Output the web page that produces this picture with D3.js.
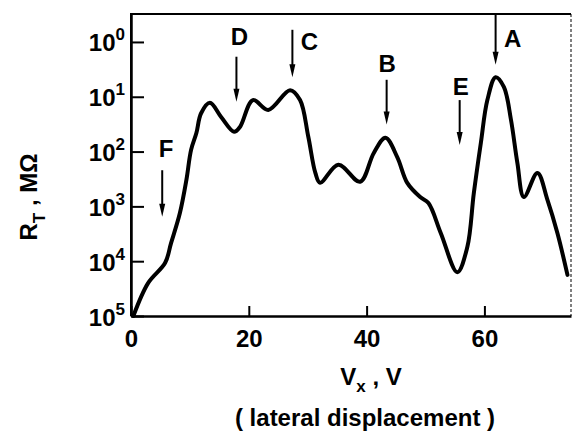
<!DOCTYPE html>
<html>
<head>
<meta charset="utf-8">
<script src="https://cdn.jsdelivr.net/npm/d3@7"></script>
<style>
body{margin:0;background:#fff}
svg{display:block;font-family:"Liberation Sans",Arial,Helvetica,sans-serif;font-weight:bold}
</style>
</head>
<body>
<svg></svg>
<script>
// lateral sweep: tunnel resistance (MOhm) vs Vx (V)
var width=572;
var height=433;
var plotL=131, plotR=571, plotT=14, plotB=316;

var vx=[0.4,2.9,5.8,6.8,8.3,9.4,10.2,11.1,11.9,13.4,15.3,17.5,18.5,20.7,23.3,27.0,28.7,30.1,31.3,32.1,
	35.2,38.9,41.2,43.2,45.2,46.9,49.1,50.5,52.6,55.4,57.1,58.2,59.4,60.5,61.9,63.3,64.5,65.6,66.7,
	69.0,70.7,72.4,74.1];
var rT=[100000,25100,10700,4680,1320,331,93,46,20,12.9,23.4,43.6,35.5,11.5,17.4,7.6,11.5,53.7,245,372,
	174,355,107,56,126,372,676,871,3090,15850,5500,575,69,11.5,4.4,6.6,26,162,676,
	245,760,3090,17800];

var xTicks=[0,20,40,60];
var yTicks=[1,10,100,1000,10000,100000];
var yExps=['0','1','2','3','4','5'];

// arrows marking the features
var marks=['F','D','C','B','E','A'];
var markV=[5.3,17.9,27.4,43.4,55.8,61.9];
var markFrom=[219,1.86,0.60,4.9,11.5,0.32];
var markTo=[1550,12.3,4.4,32,76,2.6];
var labelV=[5.95,18.4,30.3,43.5,56.0,64.8];
var labelR=[126,1.13,1.40,3.5,9.3,1.23];

var xScale=d3.scaleLinear().domain([0,74.7]).range([plotL,plotR]);
var yScale=d3.scaleLog().domain([Math.pow(10,-0.51),100000]).range([plotT,plotB]);

var svg=d3.select('svg').attr('width',width).attr('height',height);

// frame
svg.append('path')
	.attr('d','M'+plotL+','+plotB+'V'+plotT+'H'+plotR)
	.attr('fill','none').attr('stroke','#000').attr('stroke-width',2);
svg.append('line')
	.attr('x1',plotR).attr('x2',plotR).attr('y1',plotT).attr('y2',plotB)
	.attr('stroke','#000').attr('stroke-width',1).attr('stroke-dasharray','3,2');

var xAxis=d3.axisBottom(xScale)
	.tickValues(xTicks)
	.tickSizeInner(-10)
	.tickSizeOuter(0)
	.tickPadding(14);
var gx=svg.append('g')
	.attr('transform','translate(0,'+plotB+')')
	.call(xAxis);
gx.select('.domain').attr('stroke-width',2.5);
gx.selectAll('.tick line').attr('stroke-width',2);
gx.selectAll('.tick text')
	.attr('font-size',24).attr('font-family','inherit').attr('font-weight','bold')
	.attr('fill','#000');

var yAxis=d3.axisLeft(yScale)
	.tickValues(yTicks)
	.tickSizeInner(-13)
	.tickSizeOuter(0)
	.tickFormat('');
var gy=svg.append('g')
	.attr('transform','translate('+plotL+',0)')
	.call(yAxis);
gy.select('.domain').attr('stroke-width',2.5);
gy.selectAll('.tick line').attr('stroke-width',2);
gy.selectAll('.tick text').remove();
var yl=gy.selectAll('.tick').append('text')
	.attr('x',-6).attr('y',9)
	.attr('text-anchor','end')
	.attr('fill','#000');
yl.append('tspan').attr('font-size',24).text('10');
yl.append('tspan').attr('font-size',17).attr('dy',-11).text((d,i)=>yExps[i]);

// curve
var line=d3.line()
	.x(i=>xScale(vx[i]))
	.y(i=>yScale(rT[i]))
	.curve(d3.curveCatmullRom.alpha(0.5));
svg.append('path')
	.attr('d',line(d3.range(vx.length)))
	.attr('fill','none')
	.attr('stroke','#000')
	.attr('stroke-width',4)
	.attr('stroke-linejoin','round')
	.attr('stroke-linecap','round');

// arrows
var ag=svg.append('g');
marks.forEach(function(m,i){
	var x=xScale(markV[i]), y0=yScale(markFrom[i]), y1=yScale(markTo[i]);
	ag.append('line')
		.attr('x1',x).attr('x2',x).attr('y1',y0).attr('y2',y1-8)
		.attr('stroke','#000').attr('stroke-width',2);
	ag.append('path')
		.attr('d','M'+(x-3)+','+(y1-13)+'L'+(x+3)+','+(y1-13)+'L'+x+','+y1+'Z')
		.attr('fill','#000');
	ag.append('text')
		.attr('x',xScale(labelV[i]))
		.attr('y',yScale(labelR[i]))
		.attr('text-anchor','middle')
		.attr('font-size',24)
		.text(m);
});

// axis titles
var yt=svg.append('text')
	.attr('transform','translate(37,197) rotate(-90)')
	.attr('text-anchor','middle')
	.attr('font-size',24);
yt.append('tspan').text('R');
yt.append('tspan').attr('font-size',17).attr('dy',8).text('T');
yt.append('tspan').attr('dy',-8).text(' ,  M\u03a9');

var xt=svg.append('text')
	.attr('x',371).attr('y',385)
	.attr('text-anchor','middle')
	.attr('font-size',24);
xt.append('tspan').text('V');
xt.append('tspan').attr('font-size',17).attr('dy',7).text('x');
xt.append('tspan').attr('dy',-7).text(' , V');

svg.append('text')
	.attr('x',365).attr('y',426)
	.attr('text-anchor','middle')
	.attr('font-size',24)
	.text('( lateral displacement )');
</script>
</body>
</html>
